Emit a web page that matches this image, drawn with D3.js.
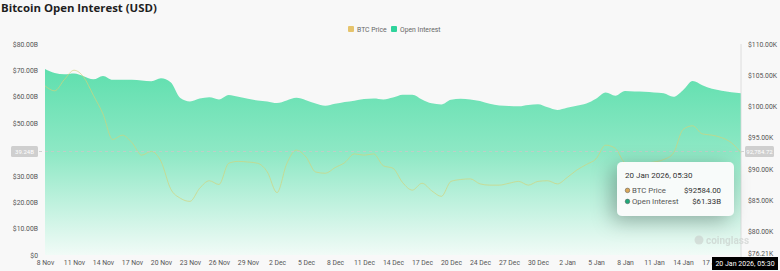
<!DOCTYPE html>
<html>
<head>
<meta charset="utf-8">
<script src="https://cdn.jsdelivr.net/npm/d3@7"></script>
<style>
  html, body { margin: 0; padding: 0; background: #f8f8f8; }
  svg { display: block; font-family: Roboto, "Noto Sans", sans-serif; }
</style>
</head>
<body>
<div id="canvas"></div>
<script>
// category per day (no 23 Dec in source data)
const days = [
  "8 Nov","9 Nov","10 Nov","11 Nov","12 Nov","13 Nov","14 Nov","15 Nov","16 Nov","17 Nov",
  "18 Nov","19 Nov","20 Nov","21 Nov","22 Nov","23 Nov","24 Nov","25 Nov","26 Nov","27 Nov",
  "28 Nov","29 Nov","30 Nov","1 Dec","2 Dec","3 Dec","4 Dec","5 Dec","6 Dec","7 Dec",
  "8 Dec","9 Dec","10 Dec","11 Dec","12 Dec","13 Dec","14 Dec","15 Dec","16 Dec","17 Dec",
  "18 Dec","19 Dec","20 Dec","21 Dec","22 Dec","24 Dec","25 Dec","26 Dec","27 Dec","28 Dec",
  "29 Dec","30 Dec","31 Dec","1 Jan","2 Jan","3 Jan","4 Jan","5 Jan","6 Jan","7 Jan",
  "8 Jan","9 Jan","10 Jan","11 Jan","12 Jan","13 Jan","14 Jan","15 Jan","16 Jan","17 Jan",
  "18 Jan","19 Jan","20 Jan"
];

// open interest, billions USD
const openInterest = [
  70.5, 69.0, 68.5, 68.8, 67.8, 66.6, 67.9, 66.4, 66.4, 66.4,
  66.2, 65.9, 67.0, 65.5, 59.5, 58.2, 59.3, 59.8, 59.0, 60.7,
  60.0, 59.2, 58.6, 58.2, 57.6, 58.6, 59.6, 58.7, 57.4, 56.6,
  57.3, 58.0, 58.5, 59.1, 59.3, 59.0, 59.7, 60.8, 60.8, 59.0,
  57.5, 57.1, 58.9, 59.2, 59.0, 58.4, 57.3, 56.7, 56.5, 56.4,
  56.9, 57.2, 56.0, 55.0, 55.8, 56.6, 57.4, 59.2, 61.6, 60.4,
  62.2, 62.0, 61.9, 61.6, 61.3, 60.0, 62.5, 66.0, 64.4, 63.0,
  62.3, 61.7, 61.33
];

// BTC price, thousands USD
const btcPrice = [
  103.3, 102.5, 104.3, 105.8, 104.7, 101.8, 98.8, 94.7, 95.4, 94.2,
  92.2, 92.8, 91.2, 86.8, 85.3, 84.8, 86.9, 88.1, 87.5, 90.9,
  91.2, 91.1, 90.9, 89.5, 86.2, 90.8, 93.0, 91.9, 89.5, 89.3,
  90.2, 91.0, 92.4, 92.2, 92.4, 90.5, 90.1, 87.8, 86.6, 87.7,
  86.5, 85.6, 88.0, 88.3, 88.4, 87.6, 87.4, 87.4, 87.7, 88.0,
  87.4, 88.0, 88.1, 87.6, 88.6, 89.8, 90.7, 91.6, 93.8, 93.3,
  91.0, 90.8, 90.9, 91.1, 91.5, 92.5, 96.3, 96.9, 95.6, 95.4,
  95.0, 94.2, 92.584
];

const xTicks = ["8 Nov","11 Nov","14 Nov","17 Nov","20 Nov","23 Nov","26 Nov","29 Nov",
  "2 Dec","5 Dec","8 Dec","11 Dec","14 Dec","17 Dec","20 Dec","24 Dec","27 Dec","30 Dec",
  "2 Jan","5 Jan","8 Jan","11 Jan","14 Jan","17 Jan"];
// $40.00B sits under the crosshair label in the source
const leftTicks = [0, 10, 20, 30, 50, 60, 70, 80];
const rightTicks = [76.21, 80, 85, 90, 95, 100, 105, 110];

const width = 780, height = 271;
const plotLeft = 45, plotRight = 741, plotTop = 44, plotBottom = 255;

const svg = d3.select("#canvas").append("svg")
  .attr("width", width).attr("height", height);

const defs = svg.append("defs");
const grad = defs.append("linearGradient").attr("id", "oiGrad")
  .attr("x1", 0).attr("y1", 0).attr("x2", 0).attr("y2", 1);
grad.append("stop").attr("offset", "0%").attr("stop-color", "#5fdfae");
grad.append("stop").attr("offset", "45%").attr("stop-color", "#8ee8c5");
grad.append("stop").attr("offset", "100%").attr("stop-color", "#f1fbf7");

const shadow = defs.append("filter").attr("id", "shadow")
  .attr("x", "-50%").attr("y", "-50%").attr("width", "200%").attr("height", "200%");
shadow.append("feDropShadow").attr("dx", -5).attr("dy", 5)
  .attr("stdDeviation", 10).attr("flood-color", "#000").attr("flood-opacity", 0.3);

defs.append("clipPath").attr("id", "tickClip")
  .append("rect").attr("x", 0).attr("y", 0).attr("width", 712).attr("height", height);

const x = d3.scaleLinear().domain([0, days.length - 1]).range([plotLeft, plotRight]);
const yL = d3.scaleLinear().domain([0, 80]).range([plotBottom, plotTop]);
const yR = d3.scaleLinear().domain([76.21, 110]).range([plotBottom, plotTop]);

// title
svg.append("text").attr("x", 1).attr("y", 12)
  .attr("font-family", "'Open Sans', sans-serif").attr("font-weight", 700)
  .attr("font-size", 11.4).attr("fill", "#1e1e1e")
  .text("Bitcoin Open Interest (USD)");

// legend
const legend = svg.append("g").attr("font-size", 6.8).attr("fill", "#666");
legend.append("rect").attr("x", 348).attr("y", 26).attr("width", 6).attr("height", 6)
  .attr("rx", 1).attr("fill", "#e6c46c");
legend.append("text").attr("x", 357).attr("y", 31.5).text("BTC Price");
legend.append("rect").attr("x", 391).attr("y", 26).attr("width", 6).attr("height", 6)
  .attr("rx", 1).attr("fill", "#2fd39b");
legend.append("text").attr("x", 400).attr("y", 31.5).text("Open Interest");

// open interest area
svg.append("path")
  .datum(openInterest)
  .attr("fill", "url(#oiGrad)")
  .attr("d", d3.area()
    .x((d, i) => x(i))
    .y0(yL(0))
    .y1(d => yL(d))
    .curve(d3.curveMonotoneX));

// btc price line
svg.append("path")
  .datum(btcPrice)
  .attr("fill", "none")
  .attr("stroke", "#d3d27a")
  .attr("stroke-opacity", 0.85)
  .attr("stroke-width", 0.8)
  .attr("d", d3.line()
    .x((d, i) => x(i))
    .y(d => yR(d))
    .curve(d3.curveMonotoneX));

// left axis
const axisL = svg.append("g")
  .attr("transform", `translate(${plotLeft - 7},0)`)
  .call(d3.axisLeft(yL).tickValues(leftTicks).tickSize(0).tickPadding(0)
    .tickFormat(d => d === 0 ? "$0" : "$" + d.toFixed(2) + "B"));
axisL.select(".domain").remove();
axisL.selectAll("text").attr("font-size", 6.8).attr("fill", "#555")
  .attr("font-family", "Roboto, sans-serif");

// right axis
const axisR = svg.append("g")
  .attr("transform", `translate(${plotRight + 7},0)`)
  .call(d3.axisRight(yR).tickValues(rightTicks).tickSize(0).tickPadding(0)
    .tickFormat(d => "$" + d.toFixed(2) + "K"));
axisR.select(".domain").remove();
axisR.selectAll("text").attr("font-size", 6.8).attr("fill", "#555")
  .attr("font-family", "Roboto, sans-serif");
axisR.selectAll(".tick").filter(d => d === 76.21).attr("transform", `translate(0,${yR(76.21) - 1})`);

// bottom axis
const axisB = svg.append("g")
  .attr("clip-path", "url(#tickClip)")
  .append("g")
  .attr("transform", `translate(0,${plotBottom + 3})`)
  .call(d3.axisBottom(x).tickValues(xTicks.map(t => days.indexOf(t)))
    .tickSize(0).tickPadding(2).tickFormat(i => days[i]));
axisB.select(".domain").remove();
axisB.selectAll("text").attr("font-size", 6.8).attr("fill", "#555")
  .attr("font-family", "Roboto, sans-serif");

// watermark
const wm = svg.append("g").attr("opacity", 0.55);
wm.append("circle").attr("cx", 699).attr("cy", 240).attr("r", 4.5).attr("fill", "#c8ccc9");
wm.append("text").attr("x", 706).attr("y", 244).attr("font-size", 10).attr("font-weight", 700)
  .attr("fill", "#c3c7c4").text("coinglass");

// crosshair
const hoverY = 151.5;
svg.append("line").attr("x1", plotLeft - 6).attr("x2", plotRight + 4)
  .attr("y1", hoverY).attr("y2", hoverY)
  .attr("stroke", "#c8c8c8").attr("stroke-width", 0.8).attr("stroke-dasharray", "3,3");
svg.append("line").attr("x1", x(days.length - 1)).attr("x2", x(days.length - 1))
  .attr("y1", plotTop).attr("y2", plotBottom + 2)
  .attr("stroke", "#d5d5d5").attr("stroke-width", 0.8);

svg.append("rect").attr("x", 11).attr("y", 146).attr("width", 27).attr("height", 11)
  .attr("rx", 1.5).attr("fill", "#cfcfcf");
svg.append("text").attr("x", 24.5).attr("y", 153.8).attr("text-anchor", "middle")
  .attr("font-size", 6).attr("fill", "#fff").text(yL.invert(hoverY).toFixed(2) + "B");
svg.append("rect").attr("x", 745).attr("y", 146).attr("width", 29).attr("height", 11)
  .attr("rx", 1.5).attr("fill", "#cfcfcf");
svg.append("text").attr("x", 759.5).attr("y", 153.8).attr("text-anchor", "middle")
  .attr("font-size", 6).attr("fill", "#fff")
  .text(d3.format(",.2f")(yR.invert(hoverY) * 1000));

// bottom date label
svg.append("rect").attr("x", 712).attr("y", 257).attr("width", 66).attr("height", 13)
  .attr("fill", "#000");
svg.append("text").attr("x", 745).attr("y", 266.3).attr("text-anchor", "middle")
  .attr("font-size", 7).attr("fill", "#fff").text("20 Jan 2026, 05:30");

// tooltip
const last = days.length - 1;
const tip = svg.append("g").attr("transform", "translate(617,162)");
tip.append("rect").attr("width", 117).attr("height", 54).attr("rx", 5)
  .attr("fill", "#fbfcfc").attr("fill-opacity", 0.97).attr("filter", "url(#shadow)");
tip.append("text").attr("x", 8).attr("y", 16).attr("font-size", 8).attr("fill", "#333")
  .text("20 Jan 2026, 05:30");
const rows = [
  { name: "BTC Price", color: "#d9a85a", value: "$" + btcPrice[last] * 1000 + ".00" },
  { name: "Open Interest", color: "#20a878", value: "$" + openInterest[last] + "B" }
];
rows.forEach((r, k) => {
  const ry = 31 + k * 11;
  tip.append("circle").attr("cx", 10.5).attr("cy", ry - 2.6).attr("r", 2.3)
    .attr("fill", r.color).attr("stroke", "#555").attr("stroke-width", 0.5);
  tip.append("text").attr("x", 15).attr("y", ry).attr("font-size", 7.8).attr("fill", "#555")
    .text(r.name);
  tip.append("text").attr("x", 104).attr("y", ry).attr("text-anchor", "end")
    .attr("font-size", 7.8).attr("fill", "#333").text(r.value);
});
</script>
</body>
</html>
